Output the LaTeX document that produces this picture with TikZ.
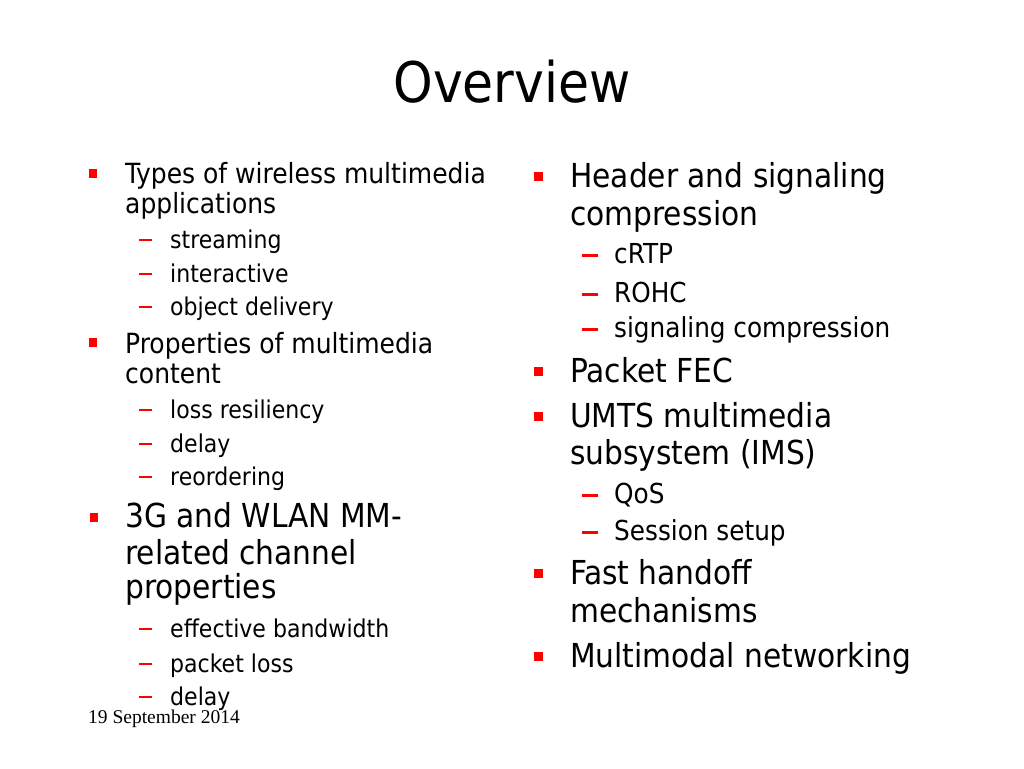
\documentclass[tikz,border=0pt]{standalone}
\usepackage{fontspec}
\setmainfont{DejaVu Sans Condensed}
\newfontfamily\datefont{Liberation Serif}
\usetikzlibrary{positioning}

\begin{document}
\begin{tikzpicture}[x=1pt,y=-1pt]
 \tikzset{title node/.style={anchor=base, inner sep=0pt,
 		font=\fontsize{56}{60}\selectfont}, }
 \tikzset{item node/.style={anchor=base west, inner sep=0pt,
 		font=\fontsize{27.8}{30}\selectfont}, }
 \tikzset{big node/.style={anchor=base west, inner sep=0pt,
 		font=\fontsize{33}{36}\selectfont}, }
 \tikzset{sub node/.style={anchor=base west, inner sep=0pt,
 		font=\fontsize{24.5}{28}\selectfont}, }
 \tikzset{bigsub node/.style={anchor=base west, inner sep=0pt,
 		font=\fontsize{27.5}{30}\selectfont}, }
 \tikzset{dash node/.style={rectangle, fill=red, inner sep=0pt,
 		minimum width=13pt, minimum height=2.3pt}, }
 \tikzset{mark node/.style={rectangle, fill=red, inner sep=0pt,
 		minimum size=8.5pt}, }
 \tikzset{date node/.style={anchor=base west, inner sep=0pt,
 		font=\datefont\fontsize{19.5}{22}\selectfont}, }
 \useasboundingbox[fill=white] (0,0) rectangle (1024,768);
 \node[title node] (0) at (512,102) {Overview};
 % left column
 \node[mark node] (m1) at (93,173.5) {};
 \node[item node] (1) at (125,183) {Types of wireless multimedia};
 \node[item node] (2) at (125,213) {applications};
 \node[mark node] (m2) at (93,342.5) {};
 \node[item node] (3) at (125,353) {Properties of multimedia};
 \node[item node] (4) at (125,383) {content};
 \node[mark node] (m3) at (94,517.5) {};
 \node[big node] (5) at (125,527) {3G and WLAN MM-};
 \node[big node] (6) at (125,564) {related channel};
 \node[big node] (7) at (125,598) {properties};
 \foreach \y /\t in{248/streaming,282/interactive,315/object delivery,
 	418/loss resiliency,452/delay,485/reordering,
 	637/effective bandwidth,672/packet loss,705/delay}{
 \node[dash node] (d\y) at (145,\y-8) {};
 \node[sub node] (s\y) at (170,\y) {\t};
 }
 % right column
 \node[mark node] (m4) at (538.5,176.5) {};
 \node[big node] (8) at (570,187) {Header and signaling};
 \node[big node] (9) at (570,225) {compression};
 \node[mark node] (m5) at (538.5,371.5) {};
 \node[big node] (10) at (570,382) {Packet FEC};
 \node[mark node] (m6) at (538.5,416.5) {};
 \node[big node] (11) at (570,427) {UMTS multimedia};
 \node[big node] (12) at (570,464) {subsystem (IMS)};
 \node[mark node] (m7) at (538.5,573.5) {};
 \node[big node] (13) at (570,584) {Fast handoff};
 \node[big node] (14) at (570,622) {mechanisms};
 \node[mark node] (m8) at (538.5,656.5) {};
 \node[big node] (15) at (570,667) {Multimodal networking};
 \foreach \y /\t in{263/cRTP,302/ROHC,337/signaling compression,
 	503/QoS,540/Session setup}{
 \node[dash node, minimum width=16pt] (d\y) at (590,\y-7.5) {};
 \node[bigsub node] (s\y) at (614,\y) {\t};
 }
 \node[date node] (16) at (88,723) {19 September 2014};
% %%
\end{tikzpicture}
\end{document}
